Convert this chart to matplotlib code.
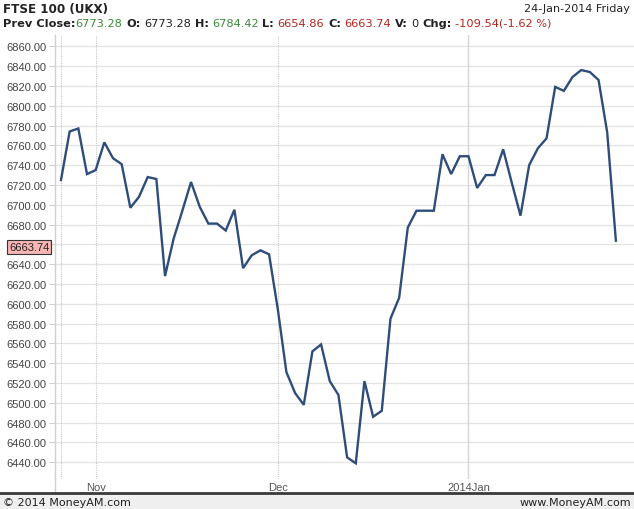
import matplotlib
matplotlib.use("Agg")
import matplotlib.pyplot as plt
from matplotlib.lines import Line2D
from matplotlib.patches import Rectangle
import matplotlib.transforms as mtransforms
import numpy as np
import pandas as pd

# ---------------- data ----------------
title = "FTSE 100 (UKX)"
date_text = "24-Jan-2014 Friday"
prev_close = 6773.28
open_px = 6773.28
high_px = 6784.42
low_px = 6654.86
close_px = 6663.74
volume = 0
change = -109.54
change_pct = -1.62

start_date = "2013-10-28"
end_date = "2014-01-24"
closes = [
    6725, 6774, 6777, 6731, 6735, 6763, 6747, 6741, 6697, 6708,
    6728, 6726, 6628, 6666, 6694, 6723, 6698, 6681, 6681, 6674,
    6695, 6636, 6649, 6654, 6650, 6595, 6531, 6510, 6498, 6552,
    6559, 6522, 6508, 6445, 6439, 6522, 6486, 6492, 6585, 6606,
    6677, 6694, 6694, 6694, 6751, 6731, 6749, 6749, 6717, 6730,
    6730, 6756, 6722, 6689, 6740, 6757, 6767, 6819, 6815, 6829,
    6836, 6834, 6826, 6773, 6663.74,
]
month_labels = ["Nov", "Dec", "2014Jan"]
y_ticks = [6440, 6460, 6480, 6500, 6520, 6540, 6560, 6580, 6600, 6620,
           6640, 6660, 6680, 6700, 6720, 6740, 6760, 6780, 6800, 6820,
           6840, 6860]
footer_left = "\u00a9 2014 MoneyAM.com"
footer_right = "www.MoneyAM.com"

# ---------------- styles ----------------
W, H = 634, 510
LINE_C = "#2f4d7a"
GRID_C = "#e3e3e3"
VGRID_C = "#c8c8c8"
DARK = "#222222"
GREEN = "#3b8a3b"
RED = "#b3261e"
TICK_C = "#444444"
HFONT = "DejaVu Sans"
AFONT = "Liberation Sans"

dates = pd.bdate_range(start_date, end_date)
idx = np.arange(len(dates))
values = np.array(closes, dtype=float)

fig = plt.figure(figsize=(W / 100, H / 100), dpi=100)
fig.patch.set_facecolor("white")

def fx(px):
    return px / W

def fy(py):
    return 1 - py / H

ax_left, ax_right, ax_top, ax_bot = 55, 634, 36, 480
ax = fig.add_axes([fx(ax_left), fy(ax_bot), (ax_right - ax_left) / W, (ax_bot - ax_top) / H])
ax.set_facecolor("white")

ax.plot(idx, values, color=LINE_C, lw=1.7, solid_joinstyle="miter", zorder=3)

ax.set_xlim(-0.69, 66.09)
ax.set_ylim(6423.15, 6871.4)

last = values[-1]
ax.set_yticks(y_ticks)
# the tick label hidden behind the last-value box is left blank
ax.set_yticklabels(["" if abs(v - last) < 10 else f"{v:.2f}" for v in y_ticks],
                   fontsize=8, family=AFONT, color=TICK_C)
ax.tick_params(axis="y", length=4, width=0.8, color="#cfcfcf", pad=2)
for v in y_ticks:
    ax.axhline(v, color=GRID_C, lw=0.9, zorder=1)

# month ticks
month_pos = []
for i in range(1, len(dates)):
    if dates[i].month != dates[i - 1].month:
        month_pos.append(i)
ax.set_xticks(month_pos)
ax.set_xticklabels(month_labels, fontsize=8, family=AFONT, color="#555555")
ax.tick_params(axis="x", length=0, pad=2)
ax.axvline(idx[0], color=VGRID_C, lw=0.8, ls=(0, (1, 1)), zorder=1)
for p, lab in zip(month_pos, month_labels):
    if lab.startswith("20"):
        ax.axvline(p, color="#d6d6d6", lw=1.0, zorder=1)
    else:
        ax.axvline(p, color=VGRID_C, lw=0.8, ls=(0, (1, 1)), zorder=1)

for s in ["top", "right", "bottom"]:
    ax.spines[s].set_visible(False)
ax.spines["left"].set_color("#d0d0d0")
ax.spines["left"].set_linewidth(1.0)
fig.add_artist(Line2D([fx(ax_left), fx(ax_left)], [fy(ax_bot), fy(494)],
                      transform=fig.transFigure, color="#d0d0d0", lw=1.0))

# last value label
trans = mtransforms.blended_transform_factory(fig.transFigure, ax.transData)
ax.text(fx(29), last - 6.5, f"{last:.2f}", transform=trans,
        ha="center", va="center", fontsize=8, family=AFONT, color="#222222",
        bbox=dict(boxstyle="square,pad=0.2", fc="#f7b5b5", ec="#333333", lw=0.8),
        clip_on=False, zorder=5)

# footer
fig.add_artist(Rectangle((0, 0), 1, fy(494), transform=fig.transFigure,
                         facecolor="#efefef", edgecolor="none", zorder=0))
fig.add_artist(Line2D([0, 1], [fy(494), fy(494)], transform=fig.transFigure,
                      color="#3a3a3a", lw=2.0))
fig.text(fx(3), fy(503), footer_left, ha="left", va="center", fontsize=8,
         family=HFONT, color=DARK)
fig.text(fx(631), fy(503), footer_right, ha="right", va="center", fontsize=8,
         family=HFONT, color=DARK)

# header
fig.text(fx(3), fy(9), title, ha="left", va="center", fontsize=8.6,
         family=HFONT, weight="bold", color=DARK)
fig.text(fx(630), fy(9), date_text, ha="right", va="center", fontsize=8,
         family=HFONT, color=DARK)

parts = [
    ("Prev Close:", DARK, "bold", 0),
    (f"{prev_close:.2f}", GREEN, "normal", 0),
    ("O:", DARK, "bold", 1),
    (f"{open_px:.2f}", DARK, "normal", 1),
    ("H:", DARK, "bold", 1),
    (f"{high_px:.2f}", GREEN, "normal", 1),
    ("L:", DARK, "bold", 1),
    (f"{low_px:.2f}", RED, "normal", 1),
    ("C:", DARK, "bold", 1),
    (f"{close_px:.2f}", RED, "normal", 1),
    ("V:", DARK, "bold", 1),
    (f"{volume}", DARK, "normal", 1),
    ("Chg:", DARK, "bold", 1),
    (f"{change:.2f}({change_pct:.2f} %)", RED, "normal", 1),
]

renderer = fig.canvas.get_renderer()

def text_w(s, size, weight):
    t = fig.text(0, 0, s, fontsize=size, family=HFONT, weight=weight)
    w = t.get_window_extent(renderer).width
    t.remove()
    return w

def layout_width(size):
    sp = text_w("a a", size, "normal") - text_w("aa", size, "normal")
    total = 0
    for s, c, wt, gap in parts:
        total += gap * sp + text_w(s, size, wt)
    return total, sp

target = 549.0
size = 8.0
tw, _ = layout_width(size)
size = size * target / tw
tw, sp = layout_width(size)
x = 3.0
for s, c, wt, gap in parts:
    x += gap * sp
    t = fig.text(fx(x), fy(24), s, ha="left", va="center", fontsize=size,
                 family=HFONT, weight=wt, color=c)
    x += t.get_window_extent(renderer).width

fig.savefig("out.png", dpi=100, facecolor=fig.get_facecolor())
